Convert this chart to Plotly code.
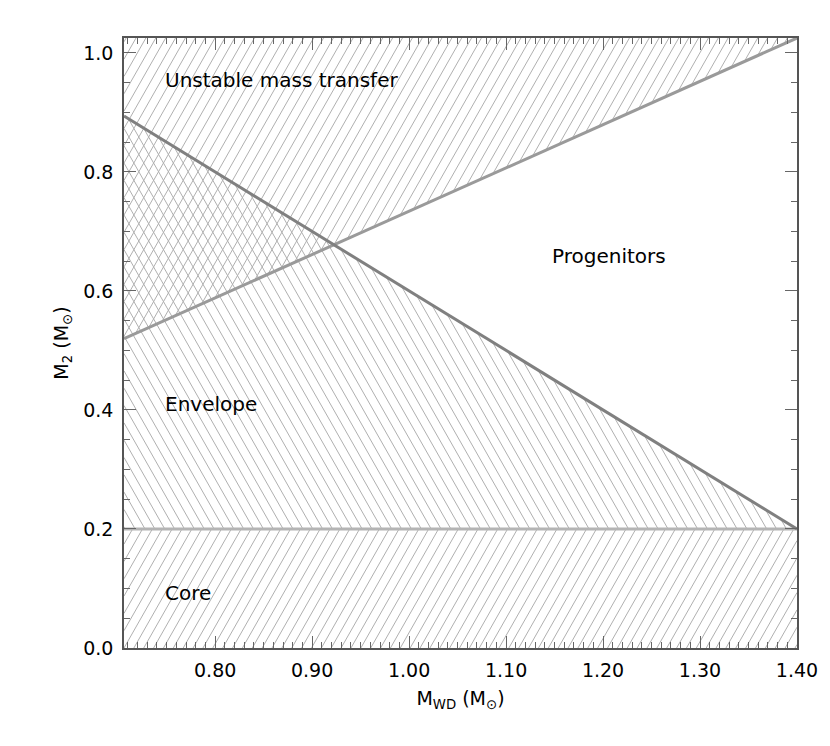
import math
import plotly.graph_objects as go

# ---------------- data ----------------
x_range = [0.706, 1.40]
y_range = [0.0, 1.025]

mwd_unstable = [0.706, 1.40]
m2_unstable = [0.52, 1.025]

mwd_envelope = [0.706, 1.40]
m2_envelope = [0.894, 0.20]

mwd_core = [0.706, 1.40]
m2_core = [0.20, 0.20]

region_labels = ["Unstable mass transfer", "Envelope", "Core", "Progenitors"]
label_x = [0.746, 0.746, 0.746, 1.267]
label_y = [0.955, 0.41, 0.0925, 0.658]
label_anchor = ["left", "left", "left", "right"]

x_ticks = [0.80, 0.90, 1.00, 1.10, 1.20, 1.30, 1.40]
y_ticks = [0.0, 0.2, 0.4, 0.6, 0.8, 1.0]

# ---------------- geometry (page has an 8px body margin) ----------------
W, H = 822, 738
ML, MR, MT, MB = 116, 24, 30, 98
PW, PH = W - ML - MR, H - MT - MB
SX = PW / (x_range[1] - x_range[0])
SY = PH / (y_range[1] - y_range[0])


def hatch(poly, theta_deg, spacing=10.0):
    pts = [((x - x_range[0]) * SX, (y - y_range[0]) * SY) for x, y in poly]
    area = 0.0
    for i in range(len(pts)):
        a, b = pts[i], pts[(i + 1) % len(pts)]
        area += a[0] * b[1] - b[0] * a[1]
    if area < 0:
        pts = pts[::-1]
    th = math.radians(theta_deg)
    d = (math.cos(th), math.sin(th))
    n = (-math.sin(th), math.cos(th))
    cs = [n[0] * p[0] + n[1] * p[1] for p in pts]
    dc = abs(spacing * math.sin(th))
    c = math.floor(min(cs) / dc) * dc
    xs, ys = [], []
    while c <= max(cs):
        t0, t1 = -1e9, 1e9
        ok = True
        for i in range(len(pts)):
            a, b = pts[i], pts[(i + 1) % len(pts)]
            e = (b[0] - a[0], b[1] - a[1])
            m = (-e[1], e[0])
            md = m[0] * d[0] + m[1] * d[1]
            rhs = m[0] * a[0] + m[1] * a[1] - c * (m[0] * n[0] + m[1] * n[1])
            if abs(md) < 1e-12:
                if rhs > 0:
                    ok = False
                    break
            else:
                tt = rhs / md
                if md > 0:
                    t0 = max(t0, tt)
                else:
                    t1 = min(t1, tt)
        if ok and t0 < t1:
            for t in (t0, t1):
                px = c * n[0] + t * d[0]
                py = c * n[1] + t * d[1]
                xs.append(px / SX + x_range[0])
                ys.append(py / SY + y_range[0])
            xs.append(None)
            ys.append(None)
        c += dc
    return xs, ys


# regions built from the boundary lines
unstable_poly = [(mwd_unstable[0], m2_unstable[0]), (mwd_unstable[1], m2_unstable[1]),
                 (mwd_unstable[0], y_range[1])]
envelope_poly = [(mwd_envelope[0], m2_core[0]), (mwd_envelope[1], m2_envelope[1]),
                 (mwd_envelope[0], m2_envelope[0])]
core_poly = [(mwd_core[0], y_range[0]), (mwd_core[1], y_range[0]),
             (mwd_core[1], m2_core[1]), (mwd_core[0], m2_core[0])]

fig = go.Figure()

hatch_color = "#b0b0b0"
for poly, ang in [(unstable_poly, 60), (envelope_poly, 120), (core_poly, 60)]:
    hx, hy = hatch(poly, ang)
    fig.add_trace(go.Scatter(x=hx, y=hy, mode="lines",
                             line=dict(color=hatch_color, width=1),
                             hoverinfo="skip", showlegend=False))

fig.add_trace(go.Scatter(x=mwd_core, y=m2_core, mode="lines",
                         line=dict(color="#b4b4b4", width=3), showlegend=False))
fig.add_trace(go.Scatter(x=mwd_unstable, y=m2_unstable, mode="lines",
                         line=dict(color="#9a9a9a", width=3), showlegend=False))
fig.add_trace(go.Scatter(x=mwd_envelope, y=m2_envelope, mode="lines",
                         line=dict(color="#808080", width=3), showlegend=False))

for txt, lx, ly, anc in zip(region_labels, label_x, label_y, label_anchor):
    fig.add_annotation(x=lx, y=ly, text=txt, showarrow=False, xanchor=anc,
                       yanchor="middle", font=dict(size=20, color="black",
                                                   family="DejaVu Sans"))

axis_common = dict(
    showline=True, linecolor="#555555", linewidth=1.5, mirror="allticks",
    ticks="inside", ticklen=12, tickwidth=1.2, tickcolor="#666666",
    showgrid=False, zeroline=False,
    tickfont=dict(size=19, color="black", family="DejaVu Sans"),
)

fig.update_xaxes(range=x_range, tickvals=x_ticks, tickformat=".2f",
                 minor=dict(ticks="inside", ticklen=6, tickwidth=1, tickcolor="#666666",
                            dtick=0.01, tick0=0.70, showgrid=False),
                 title=dict(text="M<sub>WD</sub> (M<sub>⊙</sub>)", standoff=12,
                            font=dict(size=19, color="black", family="DejaVu Sans")),
                 ticklabelstandoff=4,
                 **axis_common)
fig.update_yaxes(range=y_range, tickvals=y_ticks, tickformat=".1f",
                 minor=dict(ticks="inside", ticklen=6, tickwidth=1, tickcolor="#666666",
                            dtick=0.05, tick0=0.0, showgrid=False),
                 title=dict(text="M<sub>2</sub> (M<sub>⊙</sub>)", standoff=10,
                            font=dict(size=19, color="black", family="DejaVu Sans")),
                 ticklabelstandoff=5,
                 **axis_common)

fig.update_layout(width=W, height=H, margin=dict(l=ML, r=MR, t=MT, b=MB),
                  plot_bgcolor="white", paper_bgcolor="white", showlegend=False)

fig.write_html("out.html")
